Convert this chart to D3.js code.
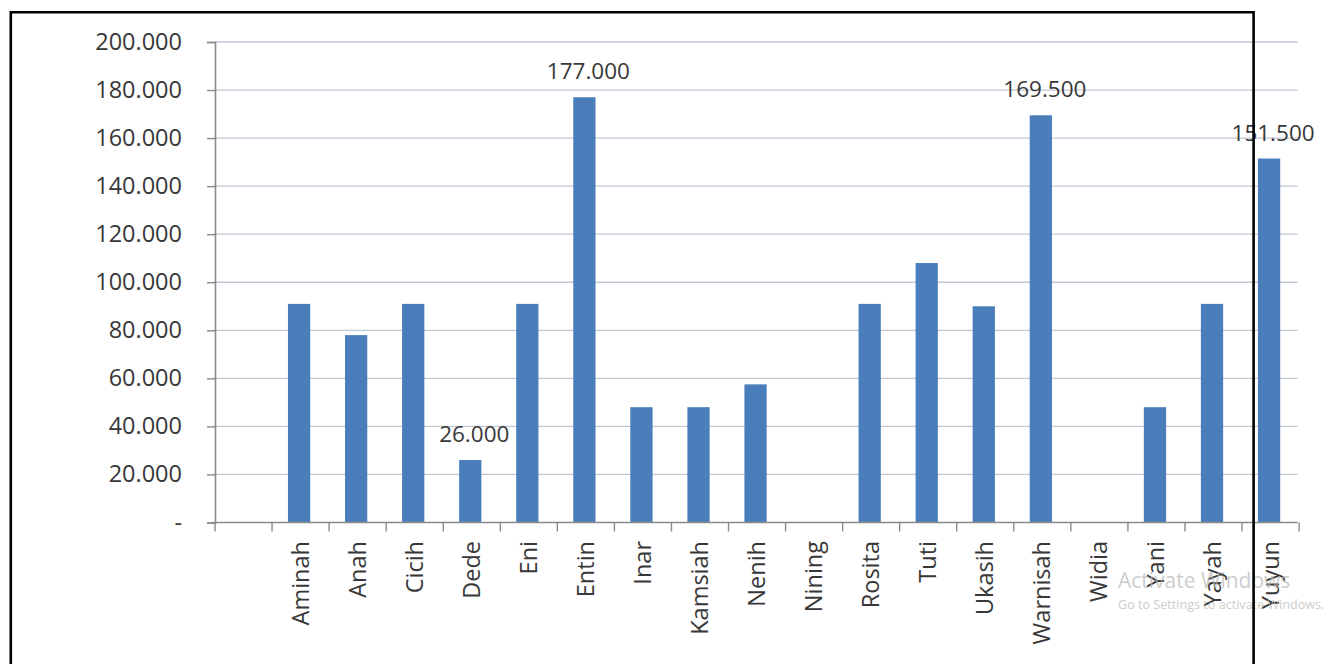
<!DOCTYPE html>
<html>
<head>
<meta charset="utf-8">
<script src="https://cdn.jsdelivr.net/npm/d3@7"></script>
<style>
  html, body { margin: 0; padding: 0; background: #fff; }
  svg { display: block; font-family: "Open Sans", "DejaVu Sans", sans-serif; }
</style>
</head>
<body>
<svg id="chart" width="1333" height="664"></svg>
<script>
// Amounts per person (Rupiah); the first slot is an empty category
const categories = ["", "Aminah", "Anah", "Cicih", "Dede", "Eni", "Entin", "Inar", "Kamsiah",
  "Nenih", "Nining", "Rosita", "Tuti", "Ukasih", "Warnisah", "Widia", "Yani", "Yayah", "Yuyun"];
const values = [null, 91000, 78000, 91000, 26000, 91000, 177000, 48000, 48000,
  57500, 0, 91000, 108000, 90000, 169500, 0, 48000, 91000, 151500];
// Bars that carry a value label
const labelled = ["Dede", "Entin", "Warnisah", "Yuyun"];
const yTicks = [0, 20000, 40000, 60000, 80000, 100000, 120000, 140000, 160000, 180000, 200000];

const svg = d3.select("#chart");
const id = d3.formatLocale({ decimal: ",", thousands: ".", grouping: [3], currency: ["Rp", ""] });
const fmt = id.format(",.0f");
const tickFmt = v => v === 0 ? "-" : fmt(v);

const x = d3.scaleBand().domain(categories).range([213.5, 1297.6]).padding(0);
const y = d3.scaleLinear().domain([0, 200000]).range([522.5, 42]);
const barW = x.bandwidth() * 0.39;

const textColor = "#383838";
const axisColor = "#8a8a8a";

// Horizontal gridlines
svg.append("g").selectAll("line").data(yTicks.filter(d => d > 0)).join("line")
  .attr("x1", x.range()[0]).attr("x2", x.range()[1])
  .attr("y1", d => y(d)).attr("y2", d => y(d))
  .attr("stroke", "#c2c7d4").attr("stroke-width", 1.3);

// Y axis
const yAxis = svg.append("g").attr("transform", `translate(${x.range()[0] + 1.5},0)`)
  .call(d3.axisLeft(y).tickValues(yTicks).tickFormat(tickFmt).tickSize(8).tickPadding(25));
yAxis.select(".domain").attr("stroke", axisColor).attr("stroke-width", 1.6);
yAxis.selectAll(".tick line").attr("stroke", axisColor).attr("stroke-width", 1.4);
yAxis.selectAll(".tick text").attr("fill", textColor).style("font-size", "23.5px")
  .attr("font-family", "Open Sans");

// Bars
svg.append("g").selectAll("rect").data(categories.map((c, i) => ({ c, v: values[i] })).filter(d => d.v))
  .join("rect")
  .attr("x", d => x(d.c) + (x.bandwidth() - barW) / 2)
  .attr("width", barW)
  .attr("y", d => y(d.v))
  .attr("height", d => y(0) - y(d.v))
  .attr("fill", "#4a7ebb");

// X axis with category boundary ticks
const xg = svg.append("g");
xg.append("line")
  .attr("x1", x.range()[0]).attr("x2", x.range()[1])
  .attr("y1", y(0)).attr("y2", y(0))
  .attr("stroke", axisColor).attr("stroke-width", 1.6);
const bounds = categories.map(c => x(c)).concat([x.range()[1]]);
xg.selectAll("line.tk").data(bounds).join("line").attr("class", "tk")
  .attr("x1", d => d + 1.5).attr("x2", d => d + 1.5)
  .attr("y1", y(0)).attr("y2", y(0) + 9)
  .attr("stroke", axisColor).attr("stroke-width", 1.4);
xg.selectAll("text").data(categories.filter(c => c)).join("text")
  .attr("transform", d => `translate(${x(d) + x.bandwidth() / 2 + 1},541) rotate(-90)`)
  .attr("text-anchor", "end")
  .attr("dy", "0.36em")
  .attr("fill", textColor)
  .style("font-size", "23.5px")
  .text(d => d);

// Value labels
svg.append("g").selectAll("text")
  .data(categories.map((c, i) => ({ c, v: values[i] })).filter(d => labelled.includes(d.c)))
  .join("text")
  .attr("x", d => x(d.c) + x.bandwidth() / 2 + 4)
  .attr("y", d => y(d.v) - 18)
  .attr("text-anchor", "middle")
  .attr("fill", textColor)
  .style("font-size", "22.5px")
  .text(d => fmt(d.v));

// Screen watermark
const wm = svg.append("g").attr("fill", "#b8b8b8").attr("opacity", 0.7)
  .attr("font-family", "Open Sans");
wm.append("text").attr("x", 1118).attr("y", 588).style("font-size", "21px").text("Activate Windows");
wm.append("text").attr("x", 1118).attr("y", 609).style("font-size", "12.6px")
  .text("Go to Settings to activate Windows.");

// Frame
svg.append("path")
  .attr("d", "M10.8,680 V12.2 H1253.6 V680")
  .attr("fill", "none").attr("stroke", "#000").attr("stroke-width", 2.6);
</script>
</body>
</html>
